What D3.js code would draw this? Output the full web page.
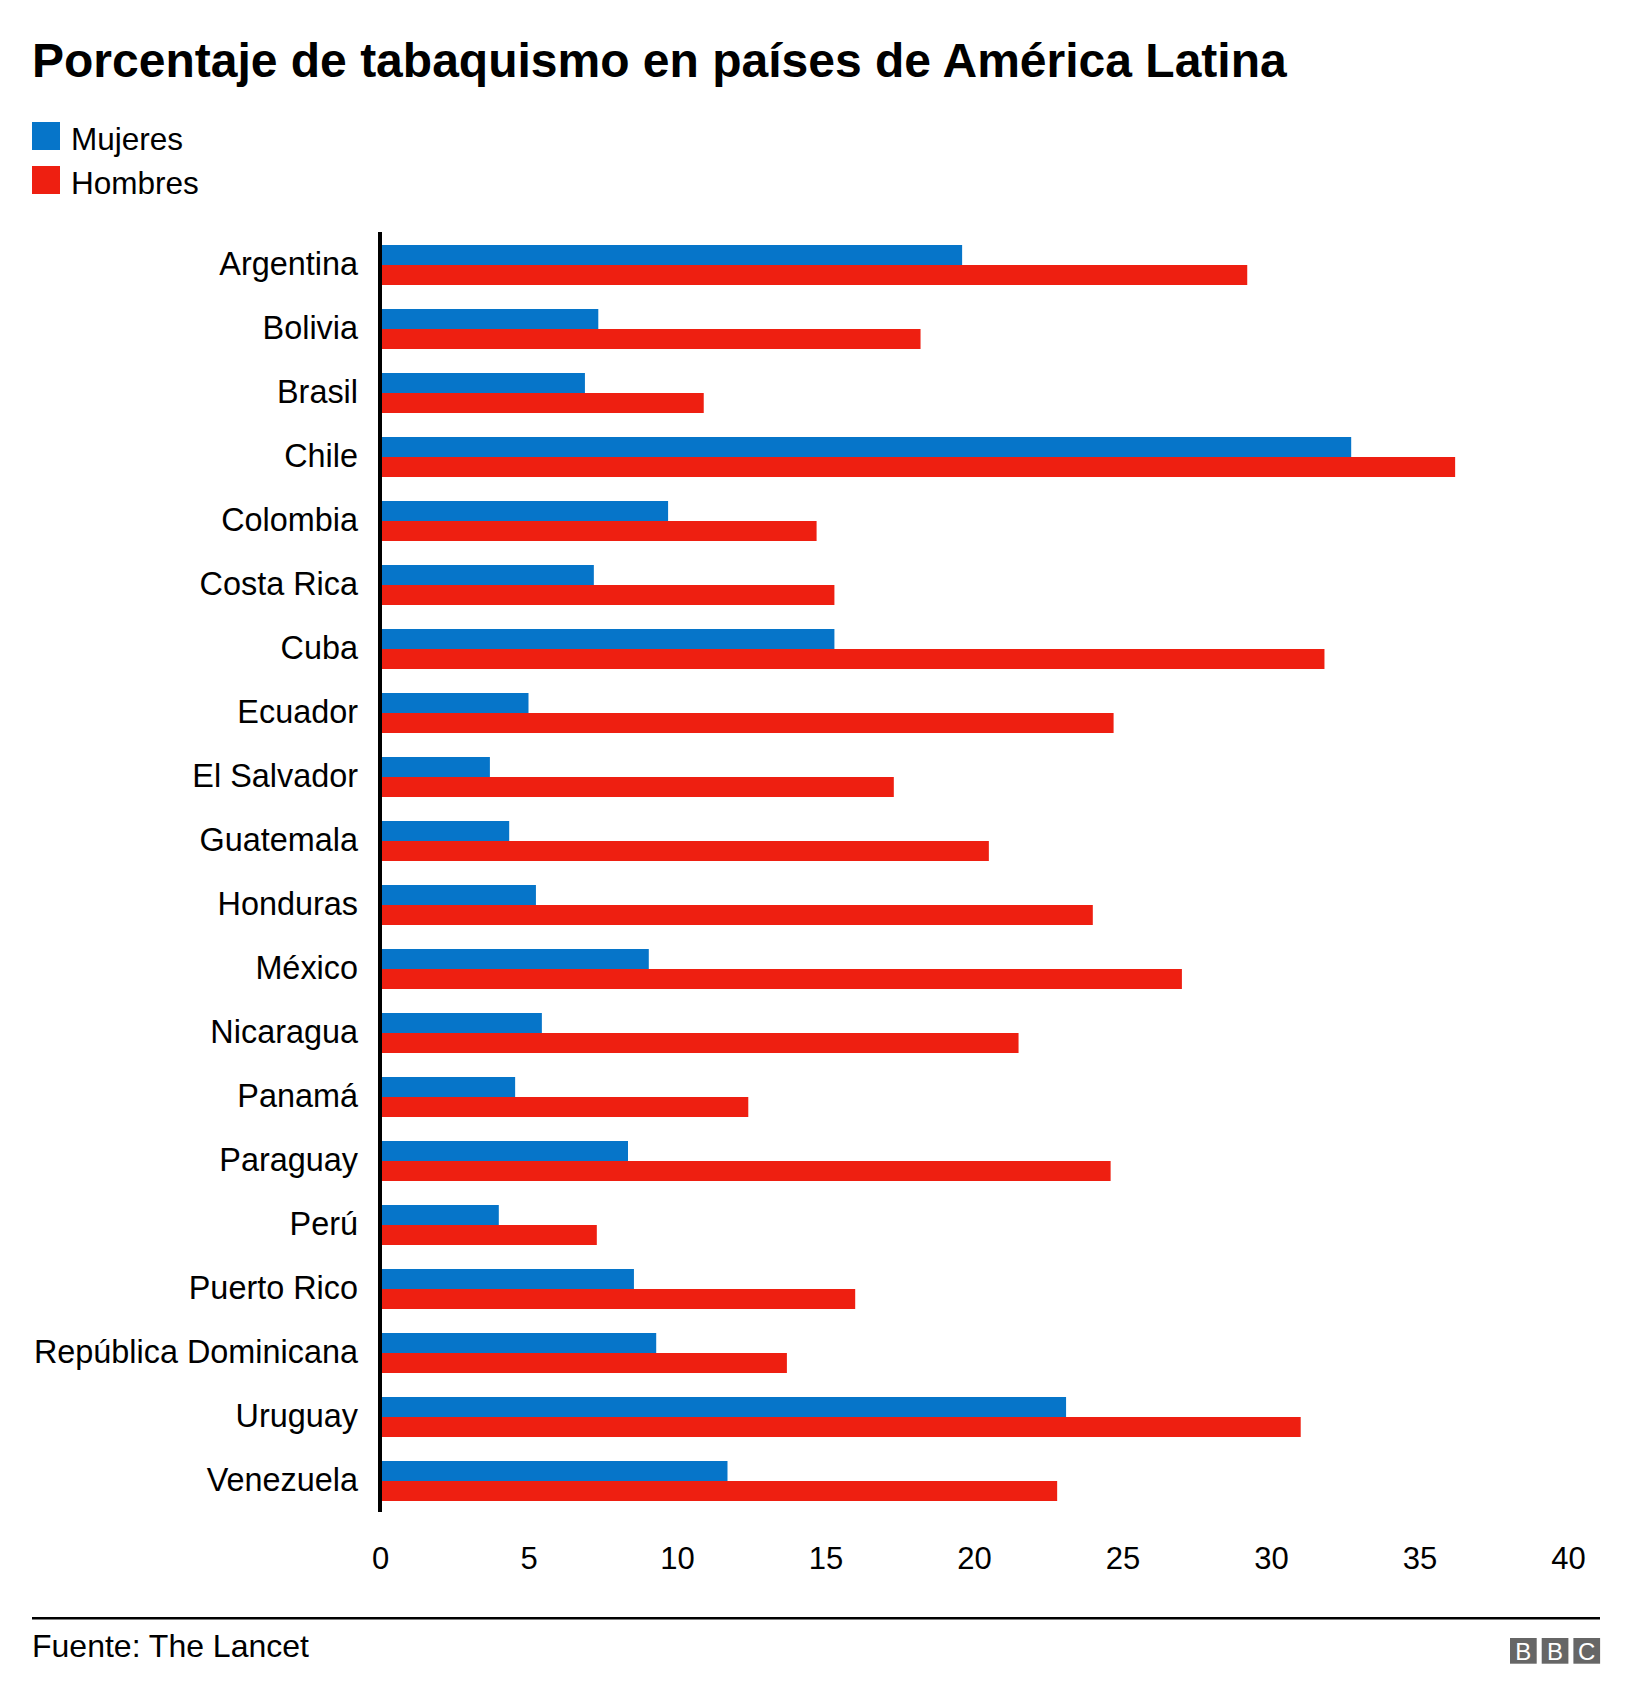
<!DOCTYPE html>
<html>
<head>
<meta charset="utf-8">
<script src="https://cdn.jsdelivr.net/npm/d3@7"></script>
<style>
  html, body { margin: 0; padding: 0; background: #fff; }
  svg { display: block; font-family: "Liberation Sans", Arial, Helvetica, sans-serif; }
</style>
</head>
<body>
<svg id="chart" width="1632" height="1706"></svg>
<script>
const categories = ["Argentina", "Bolivia", "Brasil", "Chile", "Colombia", "Costa Rica", "Cuba", "Ecuador", "El Salvador", "Guatemala", "Honduras", "México", "Nicaragua", "Panamá", "Paraguay", "Perú", "Puerto Rico", "República Dominicana", "Uruguay", "Venezuela"];
const seriesNames = ["Mujeres", "Hombres"];
const mujeres = [19.6, 7.35, 6.9, 32.7, 9.7, 7.2, 15.3, 5.0, 3.7, 4.35, 5.25, 9.05, 5.45, 4.55, 8.35, 4.0, 8.55, 9.3, 23.1, 11.7];
const hombres = [29.2, 18.2, 10.9, 36.2, 14.7, 15.3, 31.8, 24.7, 17.3, 20.5, 24.0, 27.0, 21.5, 12.4, 24.6, 7.3, 16.0, 13.7, 31.0, 22.8];
const xTicks = [0, 5, 10, 15, 20, 25, 30, 35, 40];
const colors = ["#0675c9", "#ee1f11"];
const titleText = "Porcentaje de tabaquismo en países de América Latina";
const sourceText = "Fuente: The Lancet";

const svg = d3.select("#chart");

// Title
svg.append("text")
  .attr("x", 32).attr("y", 77)
  .attr("font-size", 48).attr("font-weight", "bold").attr("fill", "#000")
  .text(titleText);

// Legend
const legend = svg.append("g");
seriesNames.forEach((name, i) => {
  const g = legend.append("g").attr("transform", `translate(32,${122 + i * 44})`);
  g.append("rect").attr("width", 28).attr("height", 28).attr("fill", colors[i]);
  g.append("text").attr("x", 39).attr("y", 27.5)
    .attr("font-size", 31.5).attr("fill", "#000").text(name);
});

// Scales
const x = d3.scaleLinear().domain([0, 40]).range([380, 1568]);
const y = d3.scaleBand().domain(categories).range([233, 1513])
  .paddingInner(0.375).paddingOuter(0.1875);
const ySub = d3.scaleBand().domain(seriesNames).range([0, y.bandwidth()]);

const data = categories.map((c, i) => ({ cat: c, values: [mujeres[i], hombres[i]] }));

// Bars
const groups = svg.append("g").selectAll("g").data(data).join("g")
  .attr("transform", d => `translate(0,${y(d.cat)})`);
groups.selectAll("rect")
  .data(d => d.values.map((v, i) => ({ key: seriesNames[i], v, i })))
  .join("rect")
  .attr("x", x(0))
  .attr("y", d => ySub(d.key))
  .attr("width", d => x(d.v) - x(0))
  .attr("height", ySub.bandwidth())
  .attr("fill", d => colors[d.i]);

// Y axis (labels)
const yAxis = svg.append("g").attr("transform", `translate(${x(0)},0)`)
  .call(d3.axisLeft(y).tickSize(0).tickPadding(22));
yAxis.select(".domain").remove();
yAxis.selectAll("text").attr("font-size", 32.4).attr("fill", "#000")
  .attr("font-family", "Liberation Sans, Arial, sans-serif").attr("dy", "0.32em");

// Axis line
svg.append("line")
  .attr("x1", x(0)).attr("x2", x(0))
  .attr("y1", 232).attr("y2", 1512)
  .attr("stroke", "#000").attr("stroke-width", 4);

// X axis (tick labels)
const xAxis = svg.append("g").attr("transform", `translate(0,1512)`)
  .call(d3.axisBottom(x).tickValues(xTicks).tickSize(0).tickPadding(35).tickFormat(d3.format("d")));
xAxis.select(".domain").remove();
xAxis.selectAll("text").attr("font-size", 31).attr("fill", "#000")
  .attr("font-family", "Liberation Sans, Arial, sans-serif");

// Footer rule
svg.append("rect").attr("x", 32).attr("y", 1617).attr("width", 1568).attr("height", 2.5).attr("fill", "#000");

// Source
svg.append("text").attr("x", 32).attr("y", 1657)
  .attr("font-size", 32).attr("fill", "#000").text(sourceText);

// BBC logo
const logo = svg.append("g").attr("transform", "translate(1510,1638)");
["B", "B", "C"].forEach((ch, i) => {
  logo.append("rect").attr("x", i * 31.7).attr("y", 0).attr("width", 26.7).attr("height", 25.7).attr("fill", "#666");
  logo.append("text").attr("x", i * 31.7 + 13.35).attr("y", 22)
    .attr("text-anchor", "middle").attr("font-size", 24).attr("font-weight", "normal")
    .attr("fill", "#fff").text(ch);
});
</script>
</body>
</html>
